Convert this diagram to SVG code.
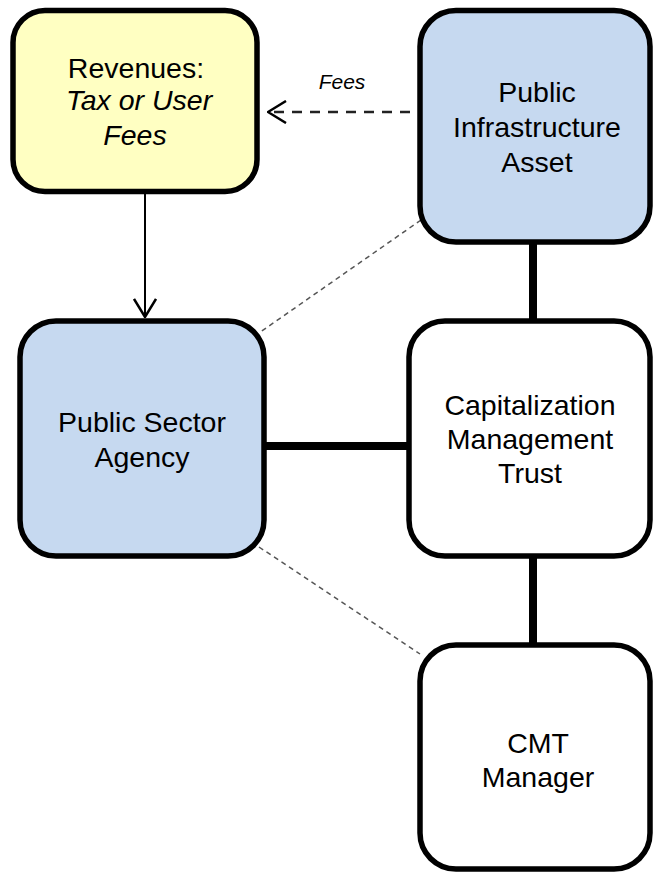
<svg xmlns="http://www.w3.org/2000/svg" width="654" height="873" viewBox="0 0 654 873">
<style>
.box{stroke:#000;stroke-width:5.5}
.blue{fill:#C6D9F0}
.yellow{fill:#FFFFC2}
.white{fill:#FFFFFF}
text{font-family:"Liberation Sans",Arial,sans-serif;font-size:28.5px;fill:#000;text-anchor:middle}
.it{font-style:italic}
.thick{stroke:#000;stroke-width:8;fill:none}
.thin{stroke:#000;stroke-width:2;fill:none}
.dash{stroke:#222;stroke-width:2.5;stroke-dasharray:10 8;fill:none}
.dot{stroke:#555;stroke-width:1.5;stroke-dasharray:5 4;fill:none}
</style>
<defs>
<marker id="chev" viewBox="0 0 20 24" refX="19" refY="12" markerWidth="20" markerHeight="24" markerUnits="userSpaceOnUse" orient="auto">
<path d="M1,1 L19,12 L1,23" fill="none" stroke="#000" stroke-width="2.5"/>
</marker>
</defs>
<rect width="654" height="873" fill="#fff"/>
<g id="connectors">
<line class="thick" x1="533" y1="242" x2="533" y2="321"/>
<line class="thick" x1="264" y1="446" x2="409" y2="446"/>
<line class="thick" x1="533" y1="556" x2="533" y2="645"/>
<line class="thin" x1="145" y1="193" x2="145" y2="317" marker-end="url(#chev)"/>
<line class="dash" x1="410" y1="112" x2="268" y2="112" marker-end="url(#chev)"/>
<line class="dot" x1="421" y1="220" x2="259" y2="333"/>
<line class="dot" x1="259" y1="547" x2="420" y2="654"/>
<text class="it" x="342" y="89" style="font-size:21px">Fees</text>
</g>
<g id="revenues">
<rect class="box yellow" x="13" y="10.5" width="244" height="181" rx="32"/>
<text x="136" y="78">Revenues:</text>
<text class="it" x="139" y="110">Tax or User</text>
<text class="it" x="135" y="145">Fees</text>
</g>
<g id="public-infrastructure-asset">
<rect class="box blue" x="420" y="10.5" width="230" height="231.5" rx="36"/>
<text x="537" y="102">Public</text>
<text x="537" y="137">Infrastructure</text>
<text x="537" y="172">Asset</text>
</g>
<g id="public-sector-agency">
<rect class="box blue" x="20" y="321" width="244" height="235" rx="36"/>
<text x="142" y="432">Public Sector</text>
<text x="142" y="467">Agency</text>
</g>
<g id="capitalization-management-trust">
<rect class="box white" x="409" y="321" width="241" height="235" rx="36"/>
<text x="530" y="415">Capitalization</text>
<text x="530" y="449">Management</text>
<text x="530" y="483">Trust</text>
</g>
<g id="cmt-manager">
<rect class="box white" x="420" y="645" width="230" height="224" rx="36"/>
<text x="538" y="753">CMT</text>
<text x="538" y="787">Manager</text>
</g>
</svg>
